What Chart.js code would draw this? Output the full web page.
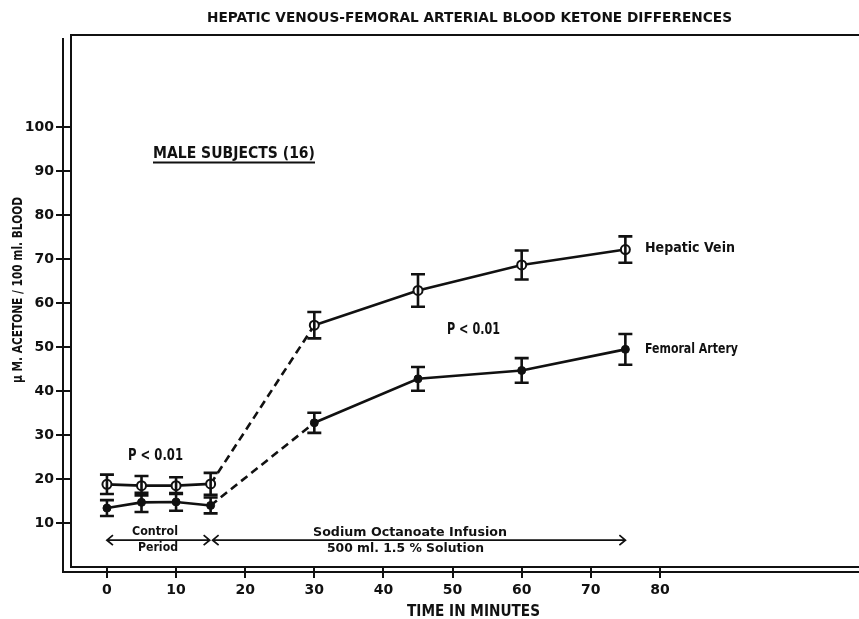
<!DOCTYPE html>
<html><head><meta charset="utf-8">
<script src="https://cdn.jsdelivr.net/npm/chart.js@4/dist/chart.umd.min.js"></script>
<style>html,body{margin:0;padding:0;background:#fff;overflow:hidden}#wrap{width:859px;height:619px}canvas{display:block}</style>
</head><body><div id="wrap"><canvas id="c" width="859" height="619"></canvas></div>
<script>
// ---- data ----
const timeMinutes = [0, 5, 10, 15, 30, 45, 60, 75];
const hepaticVein = [18.8, 18.5, 18.5, 18.9, 55.0, 62.9, 68.7, 72.2];
const hepaticErr  = [2.2, 2.2, 1.9, 2.5, 3.0, 3.7, 3.3, 3.0];
const femoralArtery = [13.4, 14.7, 14.8, 14.0, 32.8, 42.8, 44.7, 49.5];
const femoralErr    = [1.8, 2.2, 2.0, 1.8, 2.3, 2.7, 2.8, 3.5];
const yTickValues = [10, 20, 30, 40, 50, 60, 70, 80, 90, 100];
const xTickValues = [0, 10, 20, 30, 40, 50, 60, 70, 80];
const infusionStart = 15;
const infusionEnd = 75;
const controlStart = 0;
const periodArrowLevel = 6.1;

const titleText = "HEPATIC VENOUS-FEMORAL ARTERIAL BLOOD KETONE DIFFERENCES";
const yTitle = "\u00b5 M. ACETONE / 100 ml. BLOOD";
const xTitle = "TIME IN MINUTES";

const INK = '#111';
const FONT = '"DejaVu Sans", "Liberation Sans", sans-serif';

// draw text so that it spans width w starting at x, vertically centred on cy
function fitText(ctx, text, x, cy, w, size) {
  ctx.save();
  ctx.font = 'bold ' + size + 'px ' + FONT;
  const m = ctx.measureText(text).width;
  ctx.fillStyle = INK;
  ctx.textAlign = 'left';
  ctx.textBaseline = 'middle';
  ctx.translate(x, cy);
  ctx.scale(w / m, 1);
  ctx.fillText(text, 0, 0);
  ctx.restore();
}

function arrow(ctx, x1, x2, y) {
  ctx.beginPath();
  ctx.moveTo(x1, y); ctx.lineTo(x2, y);
  ctx.moveTo(x1 + 6, y - 5); ctx.lineTo(x1, y); ctx.lineTo(x1 + 6, y + 5);
  ctx.moveTo(x2 - 6, y - 5); ctx.lineTo(x2, y); ctx.lineTo(x2 - 6, y + 5);
  ctx.stroke();
}

const decor = {
  id: 'decor',
  afterDatasetsDraw(chart) {
    const ctx = chart.ctx, xs = chart.scales.x, ys = chart.scales.y;
    ctx.save();
    ctx.strokeStyle = INK; ctx.lineWidth = 2.6; ctx.lineCap = 'butt';
    // error bars
    [[hepaticVein, hepaticErr], [femoralArtery, femoralErr]].forEach(([vals, errs]) => {
      vals.forEach((v, i) => {
        const x = xs.getPixelForValue(timeMinutes[i]);
        const yt = ys.getPixelForValue(v + errs[i]);
        const yb = ys.getPixelForValue(v - errs[i]);
        ctx.beginPath();
        ctx.moveTo(x, yt); ctx.lineTo(x, yb);
        ctx.moveTo(x - 7, yt); ctx.lineTo(x + 7, yt);
        ctx.moveTo(x - 7, yb); ctx.lineTo(x + 7, yb);
        ctx.stroke();
      });
    });
    // period arrows
    ctx.lineWidth = 1.8;
    const ya = ys.getPixelForValue(periodArrowLevel);
    arrow(ctx, xs.getPixelForValue(controlStart), xs.getPixelForValue(infusionStart) - 1, ya);
    arrow(ctx, xs.getPixelForValue(infusionStart) + 2, xs.getPixelForValue(infusionEnd), ya);
    ctx.restore();
  },
  afterDraw(chart) {
    const ctx = chart.ctx, a = chart.chartArea;
    ctx.save();
    ctx.strokeStyle = INK; ctx.lineWidth = 2;
    // frame: top line and outer double lines
    ctx.beginPath();
    ctx.moveTo(a.left, a.top); ctx.lineTo(chart.width, a.top);
    ctx.moveTo(a.left - 8, a.top + 3); ctx.lineTo(a.left - 8, a.bottom + 5);
    ctx.lineTo(chart.width, a.bottom + 5);
    ctx.stroke();
    // texts
    fitText(ctx, titleText, 207, 18, 525, 14);
    fitText(ctx, "MALE SUBJECTS (16)", 153, 154, 162, 15);
    ctx.beginPath(); ctx.moveTo(153, 162.5); ctx.lineTo(315, 162.5); ctx.stroke();
    fitText(ctx, "P < 0.01", 128, 456, 55, 15);
    fitText(ctx, "P < 0.01", 447, 330, 53, 15);
    fitText(ctx, "Hepatic Vein", 645, 248, 90, 13.5);
    fitText(ctx, "Femoral Artery", 645, 349, 93, 13.5);
    fitText(ctx, "Control", 132, 532, 46, 13);
    fitText(ctx, "Period", 138, 548, 40, 13);
    fitText(ctx, "Sodium Octanoate Infusion", 313, 533, 194, 13);
    fitText(ctx, "500 ml. 1.5 % Solution", 327, 549, 157, 13);
    fitText(ctx, xTitle, 407, 612, 133, 15);
    ctx.save();
    ctx.translate(18, 383);
    ctx.rotate(-Math.PI / 2);
    fitText(ctx, yTitle, 0, 0, 186, 14);
    ctx.restore();
    ctx.restore();
  }
};

const tickFont = { family: FONT, size: 14, weight: 'bold' };

new Chart(document.getElementById('c'), {
  type: 'line',
  data: {
    datasets: [
      {
        label: 'Hepatic Vein',
        data: timeMinutes.map((t, i) => ({ x: t, y: hepaticVein[i] })),
        borderColor: INK, borderWidth: 2.6,
        pointRadius: 4.5, pointBackgroundColor: '#fff', pointBorderColor: INK, pointBorderWidth: 2,
        segment: { borderDash: c => c.p0.parsed.x === infusionStart ? [8, 5] : undefined },
        tension: 0
      },
      {
        label: 'Femoral Artery',
        data: timeMinutes.map((t, i) => ({ x: t, y: femoralArtery[i] })),
        borderColor: INK, borderWidth: 2.6,
        pointRadius: 4, pointBackgroundColor: INK, pointBorderColor: INK, pointBorderWidth: 1,
        segment: { borderDash: c => c.p0.parsed.x === infusionStart ? [8, 5] : undefined },
        tension: 0
      }
    ]
  },
  options: {
    responsive: false, animation: false, devicePixelRatio: 1,
    layout: { autoPadding: false, padding: { top: 35, right: 0, bottom: 0, left: 0 } },
    plugins: { legend: { display: false }, tooltip: { enabled: false }, title: { display: false } },
    scales: {
      x: {
        type: 'linear', min: -5.2, max: 108.8,
        afterBuildTicks: s => { s.ticks = xTickValues.map(v => ({ value: v })); },
        afterFit: s => { s.height = 52; },
        grid: { display: true, drawOnChartArea: false, drawTicks: true, tickLength: 11, color: INK, lineWidth: 2 },
        border: { display: true, color: INK, width: 2 },
        ticks: { color: INK, font: tickFont, padding: 4, maxRotation: 0, autoSkip: false }
      },
      y: {
        type: 'linear', min: 0, max: 121,
        afterBuildTicks: s => { s.ticks = yTickValues.map(v => ({ value: v })); },
        afterFit: s => { s.width = 71; },
        grid: { display: true, drawOnChartArea: false, drawTicks: true, tickLength: 15, color: INK, lineWidth: 2 },
        border: { display: true, color: INK, width: 2 },
        ticks: { color: INK, font: tickFont, padding: 2, autoSkip: false }
      }
    }
  },
  plugins: [decor]
});
</script>
</body></html>
